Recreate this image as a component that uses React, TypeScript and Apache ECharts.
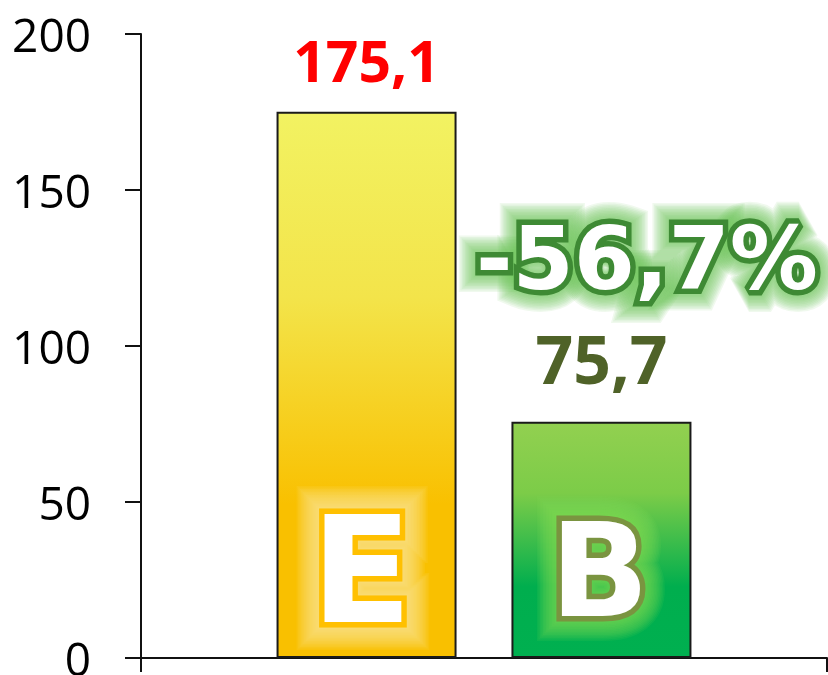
import React, { useEffect, useRef } from "react";
import * as echarts from "echarts";

const categories = [""];
const seriesNames = ["E", "B"];
const valuesE = [175.1];
const valuesB = [75.7];
const yMin = 0;
const yMax = 200;
const yInterval = 50;
const letterLevel = [28];
const changeText = ["-56,7%"];

const fmt = (v: number) => String(v).replace(".", ",");

const glowSteps = (from: number, to: number, step: number) => {
  const out: number[] = [];
  for (let w = to; w >= from; w -= step) out.push(w);
  return out;
};

const letterPoints = (
  text: string,
  size: number,
  stroke: string,
  glowRgb: string,
  offsetX: number,
  maxGlow: number
) => {
  const base = {
    show: true,
    position: "inside",
    formatter: text,
    fontFamily: "DejaVu Sans",
    fontWeight: "bold",
    fontSize: size,
    offset: [offsetX, 0],
  };
  const glows = glowSteps(14, maxGlow, 3).map((w) => ({
    coord: [0, letterLevel[0]],
    label: {
      ...base,
      color: `rgba(${glowRgb},0.09)`,
      textBorderColor: `rgba(${glowRgb},0.09)`,
      textBorderWidth: w,
    },
  }));
  return [
    ...glows,
    {
      coord: [0, letterLevel[0]],
      label: { ...base, color: stroke, textBorderColor: stroke, textBorderWidth: 11 },
    },
    {
      coord: [0, letterLevel[0]],
      label: { ...base, color: "#ffffff" },
    },
  ];
};

export default function App() {
  const ref = useRef<HTMLDivElement>(null);
  useEffect(() => {
    if (!ref.current) return;
    const chart = echarts.init(ref.current, null, { renderer: "svg", width: 828, height: 675 });
    const pctStyle = {
      text: changeText[0],
      font: 'bold 88px "DejaVu Sans"',
      align: "center",
      verticalAlign: "middle",
    };
    const pctGlows = glowSteps(14, 44, 3).map((w) => ({
      type: "text",
      style: {
        ...pctStyle,
        fill: "rgba(110,195,90,0.1)",
        stroke: "rgba(110,195,90,0.1)",
        lineWidth: w,
      },
    }));
    chart.setOption({
      animation: false,
      grid: {
        left: 141,
        right: 1,
        top: 34,
        bottom: 17,
        containLabel: false,
        outerBoundsMode: "none",
      },
      xAxis: {
        type: "category",
        data: categories,
        boundaryGap: true,
        axisLine: { lineStyle: { color: "#111", width: 2 } },
        axisTick: { show: true, length: 14, lineStyle: { color: "#111", width: 2 } },
        axisLabel: { show: false },
        splitLine: { show: false },
      },
      yAxis: {
        type: "value",
        min: yMin,
        max: yMax,
        interval: yInterval,
        axisLine: { show: true, lineStyle: { color: "#111", width: 2 } },
        axisTick: { show: true, length: 16, lineStyle: { color: "#111", width: 2 } },
        axisLabel: {
          margin: 50,
          fontFamily: "Open Sans",
          fontSize: 46,
          lineHeight: 30,
          color: "#000",
        },
        splitLine: { show: false },
      },
      series: [
        {
          name: seriesNames[0],
          type: "bar",
          data: valuesE,
          barWidth: 180,
          barGap: "30.5%",
          itemStyle: {
            borderColor: "#1a1a1a",
            borderWidth: 2,
            color: new echarts.graphic.LinearGradient(0, 0, 0, 1, [
              { offset: 0, color: "#F2F262" },
              { offset: 0.34, color: "#F3E44A" },
              { offset: 0.72, color: "#F9C000" },
              { offset: 1, color: "#F9C000" },
            ]),
          },
          label: {
            show: true,
            position: "top",
            distance: 23,
            formatter: (p: any) => fmt(p.value),
            fontFamily: "Open Sans",
            fontWeight: "bold",
            fontSize: 57,
            color: "#FF0000",
          },
          markPoint: {
            symbol: "circle",
            symbolSize: 1,
            itemStyle: { color: "rgba(0,0,0,0)" },
            data: letterPoints(seriesNames[0], 148, "#FFC000", "255,238,160", -5, 56),
          },
        },
        {
          name: seriesNames[1],
          type: "bar",
          data: valuesB,
          barWidth: 180,
          itemStyle: {
            borderColor: "#1a1a1a",
            borderWidth: 2,
            color: new echarts.graphic.LinearGradient(0, 0, 0, 1, [
              { offset: 0, color: "#92D050" },
              { offset: 0.3, color: "#7CCC48" },
              { offset: 0.7, color: "#00AE4E" },
              { offset: 1, color: "#00B050" },
            ]),
          },
          label: {
            show: true,
            position: "top",
            distance: 31,
            formatter: (p: any) => fmt(p.value),
            fontFamily: "Open Sans",
            fontWeight: "bold",
            fontSize: 66,
            color: "#4F6228",
          },
          markPoint: {
            symbol: "circle",
            symbolSize: 1,
            itemStyle: { color: "rgba(0,0,0,0)" },
            data: letterPoints(seriesNames[1], 130, "#7A9440", "135,225,85", -2, 50),
          },
        },
      ],
      graphic: [
        {
          type: "group",
          x: 647,
          y: 258,
          z: 100,
          children: [
            ...pctGlows,
            {
              type: "text",
              style: { ...pctStyle, fill: "#3E8A34", stroke: "#3E8A34", lineWidth: 11 },
            },
            {
              type: "text",
              style: { ...pctStyle, fill: "#ffffff" },
            },
          ],
        },
      ],
    });
    return () => chart.dispose();
  }, []);
  return (
    <div
      ref={ref}
      style={{ width: 828, height: 675, position: "fixed", left: 0, top: 0, overflow: "hidden" }}
    />
  );
}
